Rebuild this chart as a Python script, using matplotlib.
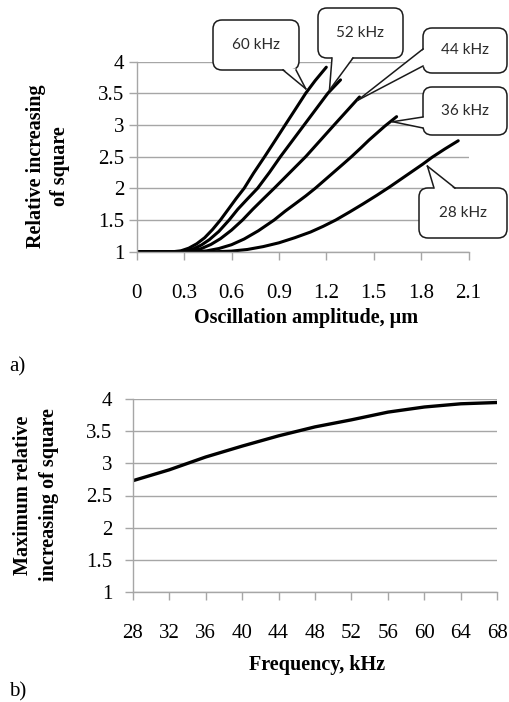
import matplotlib
matplotlib.use("Agg")
import matplotlib.pyplot as plt
from matplotlib.patches import FancyBboxPatch, Polygon
from matplotlib.lines import Line2D

W, H = 509, 702

# panel a: relative increasing of square vs oscillation amplitude (um)
amp_60 = [0, 0.23, 0.28, 0.33, 0.38, 0.43, 0.48, 0.53, 0.58, 0.63, 0.68, 0.74, 0.81, 0.87, 0.94, 1.00, 1.07, 1.13, 1.20]
sq_60 = [1, 1.0, 1.014, 1.056, 1.125, 1.22, 1.35, 1.5, 1.67, 1.84, 2.0, 2.24, 2.5, 2.73, 3.0, 3.23, 3.5, 3.7, 3.91]
amp_52 = [0, 0.26, 0.31, 0.36, 0.41, 0.46, 0.52, 0.585, 0.64, 0.70, 0.765, 0.84, 0.91, 0.985, 1.06, 1.135, 1.21, 1.29]
sq_52 = [1, 1.0, 1.012, 1.047, 1.106, 1.19, 1.32, 1.5, 1.67, 1.83, 2.0, 2.25, 2.5, 2.75, 3.0, 3.25, 3.5, 3.71]
amp_44 = [0, 0.29, 0.35, 0.41, 0.47, 0.53, 0.60, 0.67, 0.735, 0.80, 0.87, 0.97, 1.07, 1.16, 1.25, 1.33, 1.41]
sq_44 = [1, 1.0, 1.013, 1.05, 1.115, 1.205, 1.34, 1.5, 1.67, 1.83, 2.0, 2.25, 2.5, 2.75, 3.0, 3.22, 3.44]
amp_36 = [0, 0.36, 0.44, 0.52, 0.60, 0.68, 0.77, 0.87, 0.94, 1.00, 1.07, 1.13, 1.19, 1.25, 1.31, 1.36, 1.42, 1.47, 1.52, 1.57, 1.645]
sq_36 = [1, 1.0, 1.012, 1.05, 1.11, 1.2, 1.33, 1.5, 1.64, 1.75, 1.88, 2.0, 2.13, 2.26, 2.39, 2.5, 2.64, 2.76, 2.87, 2.98, 3.13]
amp_28 = [0, 0.50, 0.60, 0.70, 0.80, 0.90, 1.00, 1.10, 1.18, 1.26, 1.35, 1.43, 1.52, 1.60, 1.67, 1.74, 1.81, 1.87, 1.95, 2.035]
sq_28 = [1, 1.0, 1.009, 1.035, 1.08, 1.14, 1.22, 1.31, 1.40, 1.5, 1.63, 1.75, 1.89, 2.02, 2.14, 2.26, 2.38, 2.49, 2.62, 2.75]

curves_a = [(amp_60, sq_60), (amp_52, sq_52), (amp_44, sq_44), (amp_36, sq_36), (amp_28, sq_28)]
labels_a = ["60 kHz", "52 kHz", "44 kHz", "36 kHz", "28 kHz"]
tips_a = [(1.07, 3.57), (1.22, 3.55), (1.40, 3.39), (1.62, 3.05), (1.84, 2.35)]

xticks_a = [0, 0.3, 0.6, 0.9, 1.2, 1.5, 1.8, 2.1]
yticks = [1, 1.5, 2, 2.5, 3, 3.5, 4]

# panel b: maximum relative increasing vs frequency (kHz)
freq = [28, 32, 36, 40, 44, 48, 52, 56, 60, 64, 68]
max_sq = [2.73, 2.90, 3.10, 3.27, 3.43, 3.57, 3.68, 3.80, 3.88, 3.93, 3.95]

# callout boxes (l, t, r, b) and wedge base points, in pixels from top-left
boxes_a = [(213, 20, 299, 70), (318, 8, 403, 58), (423, 28, 507, 73), (423, 87, 507, 135), (419, 188, 507, 238)]
bases_a = [((283, 70), (296, 70), "bottom"), ((332, 58), (353, 58), "bottom"),
           ((423, 49), (423, 66), "left"), ((423, 117), (423, 128), "left"),
           ((434, 188), (455, 188), "top")]

serif = "Liberation Serif"
grid_c = "#a6a6a6"

fig = plt.figure(figsize=(W / 100, H / 100), dpi=100)


def px_axes(left, top, right, bottom):
    return fig.add_axes([left / W, 1 - bottom / H, (right - left) / W, (bottom - top) / H])


def inch(x, y):
    # pixels from top-left -> inches from bottom-left
    return (x / 100, (H - y) / 100)


def style(ax, ypad):
    for s in ["top", "right"]:
        ax.spines[s].set_visible(False)
    for s in ["left", "bottom"]:
        ax.spines[s].set_color(grid_c)
        ax.spines[s].set_linewidth(1.0)
    ax.set_ylim(1, 4)
    ax.set_yticks(yticks)
    ax.set_yticklabels([f"{v:g}" for v in yticks])
    ax.yaxis.grid(True, color=grid_c, lw=1.0)
    ax.set_axisbelow(True)
    ax.tick_params(axis="x", direction="out", length=6, width=1, color=grid_c, pad=17)
    ax.tick_params(axis="y", direction="out", length=5.5, width=1, color=grid_c, pad=ypad)
    for t in ax.get_xticklabels() + ax.get_yticklabels():
        t.set_fontfamily(serif)
        t.set_fontsize(15)


# ---- panel a
ax1 = px_axes(136.7, 61.5, 468.5, 251.7)
for x, y in curves_a:
    ax1.plot(x, y, color="black", lw=2.2, solid_capstyle="round", solid_joinstyle="round")
ax1.set_xlim(0, 2.1)
ax1.set_xticks(xticks_a)
ax1.set_xticklabels([f"{v:g}" for v in xticks_a])
style(ax1, 3.5)

tr = fig.dpi_scale_trans
push = {"bottom": (0, -1.5), "top": (0, 1.5), "left": (1.5, 0)}
for lab, tip, box, base in zip(labels_a, tips_a, boxes_a, bases_a):
    l, t, r, b = box
    fig.add_artist(FancyBboxPatch(inch(l, b), (r - l) / 100, (b - t) / 100,
                                  boxstyle="round,pad=0,rounding_size=0.09",
                                  fc="white", ec="#1a1a1a", lw=1.1, transform=tr, zorder=2))
    tx, ty = ax1.transData.transform(tip) / 100
    (x1, y1), (x2, y2), side = base
    dx, dy = push[side]
    fig.add_artist(Polygon([inch(x1 + dx, y1 + dy), inch(x2 + dx, y2 + dy), (tx, ty)], closed=True,
                           fc="white", ec="none", transform=tr, zorder=2.1))
    for bx, by in [(x1, y1), (x2, y2)]:
        p = inch(bx, by)
        fig.add_artist(Line2D([p[0], tx], [p[1], ty], color="#1a1a1a", lw=1.1, transform=tr, zorder=2.2))
    cx, cy = inch((l + r) / 2, (t + b) / 2)
    fig.text(cx, cy, lab, transform=tr, ha="center", va="center", fontsize=11, family="Lato",
             color="#2a2a2a", zorder=3)

fig.text(48 / W, 1 - 166 / H, "Relative increasing\nof square", rotation=90, ha="center", va="center",
         family=serif, weight="bold", fontsize=14.5, linespacing=1.2)
fig.text(306 / W, 1 - 318 / H, "Oscillation amplitude, \u00b5m", ha="center", va="center",
         family=serif, weight="bold", fontsize=14.5)
fig.text(17 / W, 1 - 367 / H, "a)", ha="center", va="center", family=serif, fontsize=15)

# ---- panel b
ax2 = px_axes(132.7, 399.3, 497.3, 591.7)
ax2.plot(freq, max_sq, color="black", lw=2.4)
ax2.set_xlim(28, 68)
ax2.set_xticks(freq)
ax2.set_xticklabels([str(v) for v in freq])
style(ax2, 9)

fig.text(36 / W, 1 - 495 / H, "Maximum relative\nincreasing of square", rotation=90, ha="center", va="center",
         family=serif, weight="bold", fontsize=14.5, linespacing=1.45)
fig.text(317 / W, 1 - 665 / H, "Frequency, kHz", ha="center", va="center",
         family=serif, weight="bold", fontsize=14.5)
fig.text(18 / W, 1 - 692 / H, "b)", ha="center", va="center", family=serif, fontsize=15)

fig.savefig("out.png", dpi=100)
